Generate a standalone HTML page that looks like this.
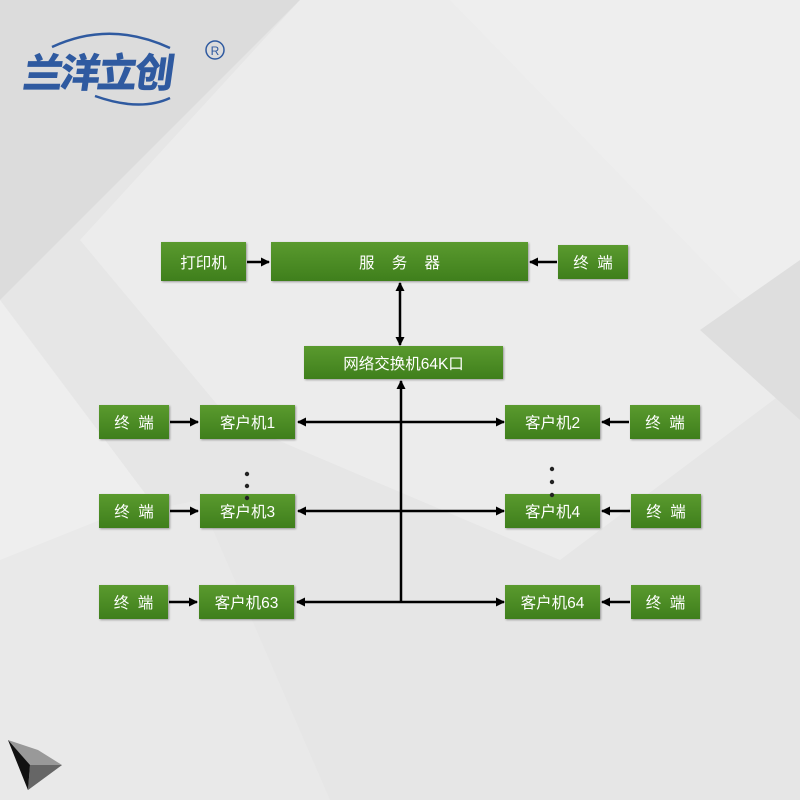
<!DOCTYPE html>
<html><head><meta charset="utf-8"><style>
html,body{margin:0;padding:0}
body{width:800px;height:800px;position:relative;overflow:hidden;background:#e6e6e6;font-family:"Liberation Sans","Noto Sans CJK SC",sans-serif}
.b{position:absolute;background:linear-gradient(#5a9a2e,#3f7f1c);color:#fff;font-size:15.5px;display:flex;align-items:center;justify-content:center;box-shadow:1px 1px 2px rgba(0,0,0,.35);white-space:pre}
svg{position:absolute;left:0;top:0}
</style></head><body>
<svg width="800" height="800">
<polygon points="0,0 300,0 0,300" fill="#dcdcdc"/>
<polygon points="300,0 560,0 800,380 560,560 230,420 80,240" fill="#ececec"/>
<polygon points="450,0 800,0 800,360" fill="#eeeeee"/>
<polygon points="0,540 200,500 330,800 0,800" fill="#e9e9e9"/>
<polygon points="0,300 0,560 150,500" fill="#eeeeee"/>
<polygon points="700,330 800,260 800,420" fill="#dedede"/>
<polygon points="8,740 28,790 62,765 38,750" fill="#999"/>
<polygon points="8,740 28,790 30,765" fill="#111"/>
<polygon points="30,765 28,790 62,765" fill="#666"/>
<path d="M52,47 Q110,20 170,48" stroke="#2f5aa0" stroke-width="2.5" fill="none"/>
<path d="M95,96 Q140,112 170,98" stroke="#2f5aa0" stroke-width="2.5" fill="none"/>
<text x="24" y="87" font-family="Noto Sans CJK SC,sans-serif" font-weight="900" font-size="40" fill="#2f5aa0" letter-spacing="-3" transform="skewX(-8) translate(10,0)">兰洋立创</text>
<circle cx="215" cy="50" r="9" stroke="#2f5aa0" stroke-width="1.5" fill="none"/>
<text x="215" y="55" font-size="12" fill="#2f5aa0" text-anchor="middle" font-family="Liberation Sans,sans-serif">R</text>
<defs><marker id="a" markerWidth="9" markerHeight="9" refX="8" refY="4.5" orient="auto" markerUnits="userSpaceOnUse"><path d="M0,0 L9,4.5 L0,9z" fill="#000"/></marker></defs>
<g stroke="#000" stroke-width="2.5" fill="none">
<line x1="247" y1="262" x2="269" y2="262" marker-end="url(#a)"/>
<line x1="557" y1="262" x2="530" y2="262" marker-end="url(#a)"/>
<line x1="400" y1="300" x2="400" y2="283" marker-end="url(#a)"/>
<line x1="400" y1="300" x2="400" y2="345" marker-end="url(#a)"/>
<line x1="401" y1="602" x2="401" y2="381" marker-end="url(#a)"/>
<line x1="170" y1="422" x2="198" y2="422" marker-end="url(#a)"/>
<line x1="170" y1="511" x2="198" y2="511" marker-end="url(#a)"/>
<line x1="169" y1="602" x2="197" y2="602" marker-end="url(#a)"/>
<line x1="629" y1="422" x2="602" y2="422" marker-end="url(#a)"/>
<line x1="630" y1="511" x2="602" y2="511" marker-end="url(#a)"/>
<line x1="630" y1="602" x2="602" y2="602" marker-end="url(#a)"/>
<line x1="401" y1="422" x2="298" y2="422" marker-end="url(#a)"/>
<line x1="401" y1="422" x2="504" y2="422" marker-end="url(#a)"/>
<line x1="401" y1="511" x2="298" y2="511" marker-end="url(#a)"/>
<line x1="401" y1="511" x2="504" y2="511" marker-end="url(#a)"/>
<line x1="401" y1="602" x2="297" y2="602" marker-end="url(#a)"/>
<line x1="401" y1="602" x2="504" y2="602" marker-end="url(#a)"/>
</g>
</svg>
<div class="b" style="left:161px;top:242px;width:85px;height:39px">打印机</div>
<div class="b" style="left:271px;top:242px;width:257px;height:39px">服    务    器</div>
<div class="b" style="left:558px;top:245px;width:70px;height:34px">终  端</div>
<div class="b" style="left:304px;top:346px;width:199px;height:33px">网络交换机64K口</div>
<div class="b" style="left:99px;top:405px;width:70px;height:34px">终  端</div>
<div class="b" style="left:200px;top:405px;width:95px;height:34px">客户机1</div>
<div class="b" style="left:505px;top:405px;width:95px;height:34px">客户机2</div>
<div class="b" style="left:630px;top:405px;width:70px;height:34px">终  端</div>
<div class="b" style="left:99px;top:494px;width:70px;height:34px">终  端</div>
<div class="b" style="left:200px;top:494px;width:95px;height:34px">客户机3</div>
<div class="b" style="left:505px;top:494px;width:95px;height:34px">客户机4</div>
<div class="b" style="left:631px;top:494px;width:70px;height:34px">终  端</div>
<div class="b" style="left:99px;top:585px;width:69px;height:34px">终  端</div>
<div class="b" style="left:199px;top:585px;width:95px;height:34px">客户机63</div>
<div class="b" style="left:505px;top:585px;width:95px;height:34px">客户机64</div>
<div class="b" style="left:631px;top:585px;width:69px;height:34px">终  端</div>
<svg width="800" height="800" style="pointer-events:none">
<g fill="#222"><circle cx="247" cy="474" r="2.2"/><circle cx="247" cy="486" r="2.2"/><circle cx="247" cy="498" r="2.2"/>
<circle cx="552" cy="469" r="2.2"/><circle cx="552" cy="482" r="2.2"/><circle cx="552" cy="495" r="2.2"/></g>
</svg>
</body></html>
